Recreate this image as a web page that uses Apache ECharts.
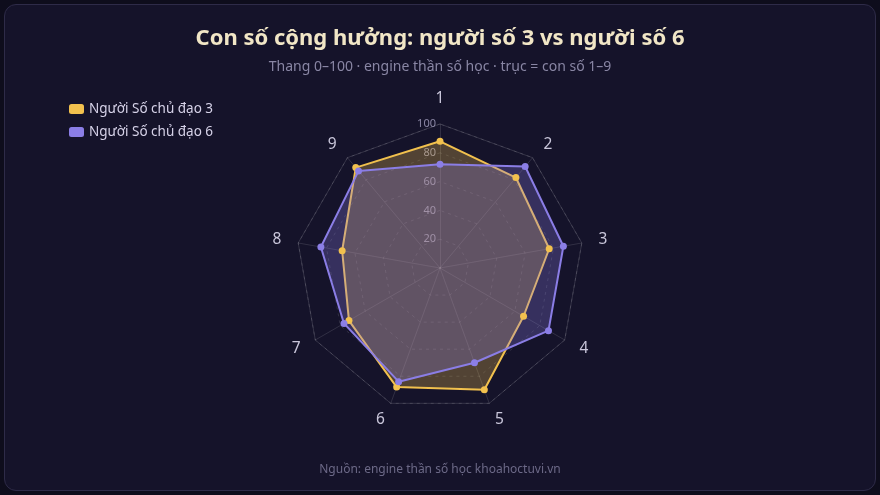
<!DOCTYPE html>
<html>
<head>
<meta charset="utf-8">
<script src="https://cdn.jsdelivr.net/npm/echarts@6/dist/echarts.min.js"></script>
<style>
  html, body { margin: 0; padding: 0; background: #0e0d1c; }
  #card {
    position: absolute; left: 4px; top: 4px; width: 870px; height: 485px;
    background: #15132a; border: 1px solid #2e2b48; border-radius: 12px;
  }
  #chart { position: absolute; left: 0; top: 0; width: 880px; height: 495px; }
</style>
</head>
<body>
<div id="card"></div>
<div id="chart"></div>
<script>
var axisNames = ['1', '2', '3', '4', '5', '6', '7', '8', '9'];
var seriesNames = ['Người Số chủ đạo 3', 'Người Số chủ đạo 6'];
var valuesSo3 = [88, 82, 77, 67, 90, 88, 73, 69, 91];
var valuesSo6 = [72, 92, 87, 87, 70, 84, 77, 84, 88];
var colors = ['#f2c14e', '#8b7ee6'];

// radar goes counter-clockwise, so walk the axes 1, 9, 8, ... 2 to read clockwise
var order = [0, 8, 7, 6, 5, 4, 3, 2, 1];
function reorder(arr) {
    return order.map(function (i) { return arr[i]; });
}

var chart = echarts.init(document.getElementById('chart'));

var indicators = reorder(axisNames).map(function (n, i) {
    var ind = { name: n, min: 0, max: 100 };
    if (i === 0) {
        ind.axisLabel = { show: true };
    }
    return ind;
});

chart.setOption({
    backgroundColor: 'transparent',
    textStyle: { fontFamily: 'Noto Sans' },
    title: {
        text: 'Con số cộng hưởng: người số 3 vs người số 6',
        subtext: 'Thang 0–100 · engine thần số học · trục = con số 1–9',
        left: 'center',
        top: 23,
        itemGap: 10,
        textStyle: { color: '#f1e6c6', fontSize: 22, fontWeight: 'bold', fontFamily: 'Noto Sans' },
        subtextStyle: { color: '#8986a4', fontSize: 14, fontFamily: 'Noto Sans' }
    },
    legend: {
        data: seriesNames,
        orient: 'vertical',
        left: 64,
        top: 97,
        itemWidth: 15,
        itemHeight: 10,
        itemGap: 9,
        icon: 'roundRect',
        textStyle: { color: '#d6d2e8', fontSize: 13.5 }
    },
    graphic: [{
        type: 'text',
        left: 'center',
        top: 464,
        style: {
            text: 'Nguồn: engine thần số học khoahoctuvi.vn',
            fill: '#6c6987',
            fontSize: 12,
            fontFamily: 'Noto Sans'
        }
    }],
    radar: [{
        center: [440, 268],
        radius: 144,
        startAngle: 90,
        splitNumber: 5,
        shape: 'polygon',
        indicator: indicators,
        axisName: { color: '#c9c6da', fontSize: 15.5 },
        nameGap: 17,
        axisLine: { lineStyle: { color: 'rgba(255,255,255,0.12)' } },
        splitLine: { lineStyle: { color: 'rgba(255,255,255,0.12)', type: [3, 4] } },
        splitArea: { show: false },
        axisLabel: {
            show: false, color: '#8c88a6', fontSize: 11, margin: 4,
            formatter: function (v) { return v === 0 ? '' : v; }
        },
        axisTick: { show: false }
    }, {
        center: [440, 268],
        radius: 144,
        startAngle: 90,
        splitNumber: 1,
        shape: 'polygon',
        indicator: axisNames.map(function () { return { name: '', min: 0, max: 100 }; }),
        axisName: { show: false },
        axisLine: { show: false },
        splitLine: { lineStyle: { color: 'rgba(255,255,255,0.14)' } },
        splitArea: { show: false },
        axisLabel: { show: false },
        axisTick: { show: false }
    }],
    series: [{
        type: 'radar',
        radarIndex: 0,
        symbol: 'circle',
        symbolSize: 7,
        data: [{
            name: seriesNames[0],
            value: reorder(valuesSo3),
            itemStyle: { color: colors[0] },
            lineStyle: { color: colors[0], width: 2 },
            areaStyle: { color: colors[0], opacity: 0.28 }
        }, {
            name: seriesNames[1],
            value: reorder(valuesSo6),
            itemStyle: { color: colors[1] },
            lineStyle: { color: colors[1], width: 2 },
            areaStyle: { color: colors[1], opacity: 0.28 }
        }]
    }]
});
</script>
</body>
</html>
